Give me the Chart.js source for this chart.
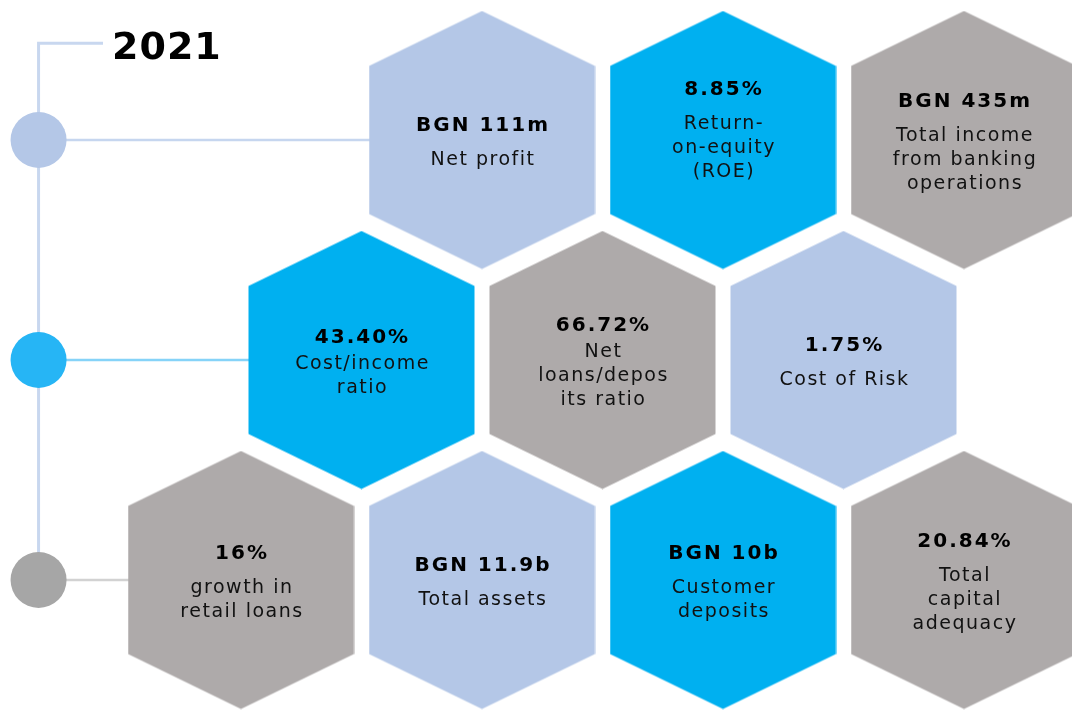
<!DOCTYPE html>
<html>
<head>
<meta charset="utf-8">
<script src="https://cdn.jsdelivr.net/npm/chart.js@4.4.1/dist/chart.umd.min.js"></script>
<style>
  html, body { margin: 0; padding: 0; background: #fff; }
  #wrap { width: 1072px; height: 713px; position: relative; }
</style>
</head>
<body>
<div id="wrap"><canvas id="hexChart"></canvas></div>
<script>
// key figures 2021
const year = "2021";
const values = ["BGN 111m", "8.85%", "BGN 435m", "43.40%", "66.72%", "1.75%", "16%", "BGN 11.9b", "BGN 10b", "20.84%"];
const labels = [
  "Net profit",
  "Return-\non-equity\n(ROE)\n",
  "Total income\nfrom banking\noperations",
  "Cost/income\nratio",
  "Net\nloans/depos\nits ratio",
  "Cost of Risk",
  "growth in\nretail loans",
  "Total assets",
  "Customer\ndeposits",
  "Total\ncapital\nadequacy"
];
const rows  = [1, 1, 1, 2, 2, 2, 3, 3, 3, 3];
const slots = [4, 6, 8, 3, 5, 7, 2, 4, 6, 8];
const tones = ["light", "cyan", "grey", "cyan", "grey", "light", "grey", "light", "cyan", "grey"];
const rowNums = [1, 2, 3];

const toneColor = { light: "#b4c7e7", cyan: "#00b0f0", grey: "#aeaaaa" };
const nodeColor = ["#b4c7e7", "#26b5f5", "#a6a6a6"];
const linkColor = ["#c6d6ef", "#86d3f8", "#d2d2d2"];
const tight = [3, 4]; // value/label gap is smaller in these

// spine position (in slot units) and top of it
const spineX = 0.32, spineTop = 0.56, spineEnd = 0.855;

// hexagon point style
const makeHex = (color) => {
  const w = 113, h = 129, s = 74;
  const c = document.createElement("canvas");
  c.width = w * 2 + 1; c.height = h * 2 + 1;
  const g = c.getContext("2d");
  const cx = c.width / 2, cy = c.height / 2;
  g.fillStyle = color;
  g.beginPath();
  g.moveTo(cx, cy - h);
  g.lineTo(cx + w, cy - s);
  g.lineTo(cx + w, cy + s);
  g.lineTo(cx, cy + h);
  g.lineTo(cx - w, cy + s);
  g.lineTo(cx - w, cy - s);
  g.closePath();
  g.fill();
  return c;
};
const hexImg = {};
Object.keys(toneColor).forEach(k => hexImg[k] = makeHex(toneColor[k]));

const hexText = {
  id: "hexText",
  afterDatasetsDraw(chart) {
    const { ctx, scales } = chart;
    const meta = chart.getDatasetMeta(0);
    ctx.save();
    ctx.textAlign = "center";
    ctx.textBaseline = "alphabetic";
    meta.data.forEach((pt, i) => {
      const lines = labels[i].split("\n");
      const gap = tight.includes(i) ? 26 : 34;
      let y = pt.y + 7.5 - (gap + 24 * (lines.length - 1)) / 2;
      ctx.font = "bold 20px 'DejaVu Sans'";
      ctx.letterSpacing = "2px";
      ctx.fillStyle = "#000";
      ctx.fillText(values[i], pt.x + 1, y);
      ctx.font = "19px 'DejaVu Sans'";
      ctx.letterSpacing = "1.5px";
      ctx.fillStyle = "#111";
      y += gap;
      lines.forEach(l => { ctx.fillText(l, pt.x + 1, y); y += 24; });
    });
    // year title at the end of the spine
    ctx.textAlign = "left";
    ctx.letterSpacing = "1px";
    ctx.font = "bold 38px 'DejaVu Sans'";
    ctx.fillStyle = "#000";
    ctx.fillText(year, scales.x.getPixelForValue(spineEnd) + 9, scales.y.getPixelForValue(spineTop) + 16);
    ctx.restore();
  }
};

const firstInRow = (r) => Math.min(...slots.filter((s, i) => rows[i] === r));

const datasets = [
  {
    label: "hexes",
    data: slots.map((s, i) => ({ x: s, y: rows[i] })),
    pointStyle: tones.map(t => hexImg[t]),
    pointRadius: 1,
    clip: false,
    order: 0
  },
  {
    label: "nodes",
    data: rowNums.map(r => ({ x: spineX, y: r })),
    pointStyle: "circle",
    pointRadius: 28,
    backgroundColor: nodeColor,
    borderWidth: 0,
    clip: false,
    order: 1
  },
  ...rowNums.map((r, k) => ({
    label: "link" + r,
    data: [{ x: spineX, y: r }, { x: firstInRow(r), y: r }],
    showLine: true,
    pointRadius: 0,
    borderColor: linkColor[k],
    borderWidth: 2.5,
    clip: false,
    order: 2
  })),
  {
    label: "spine",
    data: [{ x: spineX, y: 3 }, { x: spineX, y: spineTop }, { x: spineEnd, y: spineTop }],
    showLine: true,
    pointRadius: 0,
    borderColor: "#c8d7ef",
    borderWidth: 3,
    clip: false,
    order: 3
  }
];

new Chart("hexChart", {
  type: "scatter",
  data: { datasets },
  options: {
    responsive: true,
    maintainAspectRatio: false,
    animation: false,
    events: [],
    layout: { padding: 0, autoPadding: false },
    plugins: { legend: { display: false }, tooltip: { enabled: false } },
    scales: {
      x: { type: "linear", min: 0, max: 1072 / 120.5, display: false },
      y: { type: "linear", min: 1 - 140 / 220, max: 1 - 140 / 220 + 713 / 220, reverse: true, display: false }
    }
  },
  plugins: [hexText]
});
</script>
</body>
</html>
